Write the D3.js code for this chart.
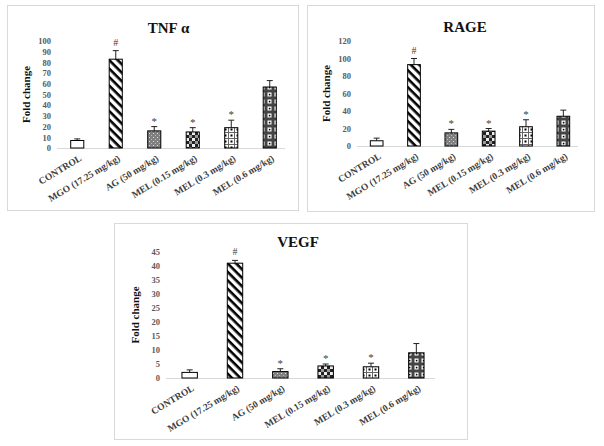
<!DOCTYPE html>
<html>
<head>
<meta charset="utf-8">
<script src="https://cdn.jsdelivr.net/npm/d3@7"></script>
<style>
  body { margin: 0; background: #fff; }
  svg text { font-family: "Liberation Serif", "Times New Roman", serif; }
</style>
</head>
<body>
<div id="chart"></div>
<script>
/* DATA */
const categories = ["CONTROL", "MGO (17.25 mg/kg)", "AG (50 mg/kg)", "MEL (0.15 mg/kg)", "MEL (0.3 mg/kg)", "MEL (0.6 mg/kg)"];

const tnfValues = [7, 83, 16, 15, 19, 57];
const tnfErrors = [1.5, 8, 4, 4, 7, 6];
const tnfMarks = ["", "#", "*", "*", "*", ""];
const tnfTicks = [0, 10, 20, 30, 40, 50, 60, 70, 80, 90, 100];

const rageValues = [6, 93, 15, 17, 22, 34];
const rageErrors = [3, 7, 4, 3, 8, 7];
const rageMarks = ["", "#", "*", "*", "*", ""];
const rageTicks = [0, 20, 40, 60, 80, 100, 120];

const vegfValues = [2, 41, 2.3, 4.3, 4, 9];
const vegfErrors = [0.9, 1, 1, 0.7, 1.3, 3.3];
const vegfMarks = ["", "#", "*", "*", "*", ""];
const vegfTicks = [0, 5, 10, 15, 20, 25, 30, 35, 40, 45];

const fills = ["#fff", "url(#stripes)", "url(#dots)", "url(#checkSmall)", "url(#gridDots)", "url(#gridBig)"];

/* SVG */
const svg = d3.select("#chart").append("svg")
  .attr("width", 604)
  .attr("height", 446);

// fill patterns
const defs = svg.append("defs");

const stripes = defs.append("pattern")
  .attr("id", "stripes")
  .attr("patternUnits", "userSpaceOnUse")
  .attr("width", 6).attr("height", 6)
  .attr("patternTransform", "rotate(45)");
stripes.append("rect").attr("width", 6).attr("height", 6).attr("fill", "#fff");
stripes.append("rect").attr("width", 6).attr("height", 2.6).attr("fill", "#000");

const dots = defs.append("pattern")
  .attr("id", "dots")
  .attr("patternUnits", "userSpaceOnUse")
  .attr("width", 4).attr("height", 4);
dots.append("rect").attr("width", 4).attr("height", 4).attr("fill", "#7f7f7f");
dots.append("rect").attr("x", 1).attr("y", 1).attr("width", 1).attr("height", 1).attr("fill", "#ddd");
dots.append("rect").attr("x", 3).attr("y", 3).attr("width", 1).attr("height", 1).attr("fill", "#bbb");

const checkSmall = defs.append("pattern")
  .attr("id", "checkSmall")
  .attr("patternUnits", "userSpaceOnUse")
  .attr("width", 6).attr("height", 6);
checkSmall.append("rect").attr("width", 6).attr("height", 6).attr("fill", "#222");
checkSmall.append("rect").attr("width", 3).attr("height", 3).attr("fill", "#eee");
checkSmall.append("rect").attr("x", 3).attr("y", 3).attr("width", 3).attr("height", 3).attr("fill", "#999");

const gridDots = defs.append("pattern")
  .attr("id", "gridDots")
  .attr("patternUnits", "userSpaceOnUse")
  .attr("width", 6).attr("height", 6);
gridDots.append("rect").attr("width", 6).attr("height", 6).attr("fill", "#666");
gridDots.append("rect").attr("x", 1).attr("y", 1).attr("width", 5).attr("height", 5).attr("fill", "#fff");
gridDots.append("rect").attr("x", 2.5).attr("y", 2.5).attr("width", 2).attr("height", 2).attr("fill", "#000");

const gridBig = defs.append("pattern")
  .attr("id", "gridBig")
  .attr("patternUnits", "userSpaceOnUse")
  .attr("width", 7).attr("height", 7);
gridBig.append("rect").attr("width", 7).attr("height", 7).attr("fill", "#444");
gridBig.append("rect").attr("x", 1.5).attr("y", 1.5).attr("width", 4).attr("height", 4).attr("fill", "#fff");
gridBig.append("rect").attr("x", 2.8).attr("y", 2.8).attr("width", 1.6).attr("height", 1.6).attr("fill", "#000");

/* PANELS */
drawPanel({
  title: "TNF α", values: tnfValues, errors: tnfErrors, marks: tnfMarks, ticks: tnfTicks,
  box: [7.5, 5.5, 291, 205], xRange: [58, 289], yRange: [148, 41], titleY: 33
});
drawPanel({
  title: "RAGE", values: rageValues, errors: rageErrors, marks: rageMarks, ticks: rageTicks,
  box: [307.5, 5.5, 287, 206], xRange: [358, 582], yRange: [146, 41], titleY: 32
});
drawPanel({
  title: "VEGF", values: vegfValues, errors: vegfErrors, marks: vegfMarks, ticks: vegfTicks,
  box: [114.5, 223.5, 353, 216], xRange: [167, 439], yRange: [378, 252], titleY: 247
});

function drawPanel(cfg) {
  const g = svg.append("g");
  const [bx, by, bw, bh] = cfg.box;

  // panel frame
  g.append("rect")
    .attr("x", bx).attr("y", by)
    .attr("width", bw).attr("height", bh)
    .attr("fill", "#fff")
    .attr("stroke", "#d9d9d9");

  const xScale = d3.scaleBand()
    .domain(categories)
    .range(cfg.xRange)
    .paddingInner(0.66)
    .paddingOuter(0.33);

  const yScale = d3.scaleLinear()
    .domain([0, d3.max(cfg.ticks)])
    .range(cfg.yRange);

  // title
  g.append("text")
    .attr("x", (cfg.xRange[0] + cfg.xRange[1]) / 2 - 5)
    .attr("y", cfg.titleY)
    .attr("text-anchor", "middle")
    .attr("font-size", 15)
    .attr("font-weight", "bold")
    .attr("fill", "#111")
    .text(cfg.title);

  // y axis (labels only)
  const yAxis = d3.axisLeft(yScale)
    .tickValues(cfg.ticks)
    .tickSize(0)
    .tickPadding(7);
  const yAxisGroup = g.append("g")
    .attr("transform", `translate(${cfg.xRange[0]}, 0)`)
    .call(yAxis);
  yAxisGroup.select(".domain").remove();
  yAxisGroup.selectAll("text")
    .attr("font-family", "Liberation Serif, serif")
    .attr("font-size", 8.5)
    .attr("font-weight", "bold")
    .attr("fill", "#595959");

  // y title
  g.append("text")
    .attr("transform", `translate(${cfg.xRange[0] - 28}, ${(cfg.yRange[0] + cfg.yRange[1]) / 2}) rotate(-90)`)
    .attr("text-anchor", "middle")
    .attr("font-size", 11)
    .attr("font-weight", "bold")
    .attr("fill", "#111")
    .text("Fold change");

  // x axis
  const xAxis = d3.axisBottom(xScale).tickSize(0).tickPadding(0);
  const xAxisGroup = g.append("g")
    .attr("transform", `translate(0, ${cfg.yRange[0]})`)
    .call(xAxis);
  xAxisGroup.select(".domain")
    .attr("stroke", "#d9d9d9")
    .attr("d", `M${cfg.xRange[0] - 1},0.5H${cfg.xRange[1] - 4}`);
  xAxisGroup.selectAll(".tick text")
    .attr("font-family", "Liberation Serif, serif")
    .attr("font-size", 9.5)
    .attr("font-weight", "bold")
    .attr("fill", "#404040")
    .attr("text-anchor", "end")
    .attr("dy", 0)
    .attr("transform", "translate(5, 12) rotate(-31)");

  const rows = categories.map((c, i) => ({
    cat: c, value: cfg.values[i], err: cfg.errors[i], mark: cfg.marks[i], fill: fills[i]
  }));

  // error bars (drawn under the bars)
  const errs = g.selectAll(".err")
    .data(rows)
    .join("g")
    .attr("class", "err")
    .attr("stroke", "#222")
    .attr("stroke-width", 1);
  errs.append("line")
    .attr("x1", d => xScale(d.cat) + xScale.bandwidth() / 2)
    .attr("x2", d => xScale(d.cat) + xScale.bandwidth() / 2)
    .attr("y1", d => yScale(d.value))
    .attr("y2", d => yScale(d.value + d.err));
  errs.append("line")
    .attr("x1", d => xScale(d.cat) + xScale.bandwidth() / 2 - 3)
    .attr("x2", d => xScale(d.cat) + xScale.bandwidth() / 2 + 3)
    .attr("y1", d => yScale(d.value + d.err))
    .attr("y2", d => yScale(d.value + d.err));

  // bars
  g.selectAll(".bar")
    .data(rows)
    .join("rect")
    .attr("class", "bar")
    .attr("x", d => xScale(d.cat))
    .attr("y", d => yScale(d.value))
    .attr("width", xScale.bandwidth())
    .attr("height", d => yScale(0) - yScale(d.value))
    .attr("fill", d => d.fill)
    .attr("stroke", "#000")
    .attr("stroke-width", 1);

  // significance marks
  g.selectAll(".mark")
    .data(rows.filter(d => d.mark))
    .join("text")
    .attr("class", "mark")
    .attr("x", d => xScale(d.cat) + xScale.bandwidth() / 2)
    .attr("y", d => yScale(d.value + d.err) - (d.mark === "#" ? 5 : 7))
    .attr("text-anchor", "middle")
    .attr("font-size", d => d.mark === "#" ? 10 : 11)
    .attr("dy", d => d.mark === "*" ? 5 : 0)
    .attr("fill", "#404040")
    .text(d => d.mark);
}
</script>
</body>
</html>
